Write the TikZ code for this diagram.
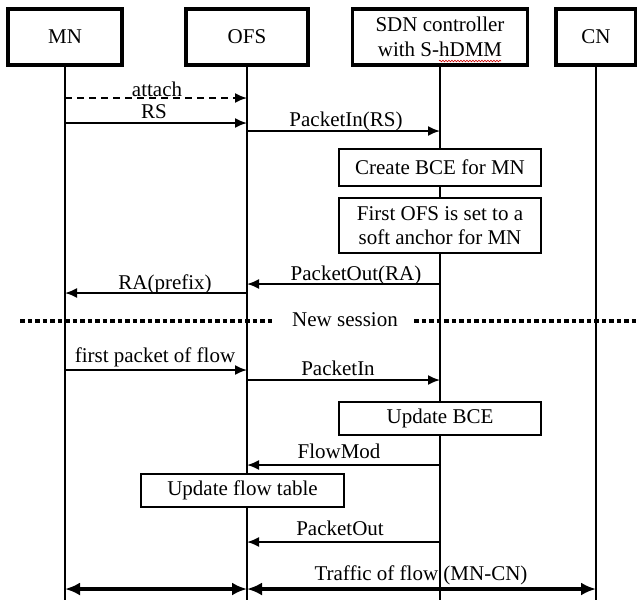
\documentclass[tikz,border=0pt]{standalone}
\usepackage{fontspec}
\setmainfont{Liberation Serif}
\usetikzlibrary{arrows.meta,decorations.pathmorphing}
\begin{document}
\begin{tikzpicture}[x=1pt,y=-1pt,
  font=\fontsize{21}{24}\selectfont,
  head/.style={draw,line width=3.8pt,minimum height=56pt,inner sep=0pt,align=center,font=\fontsize{21}{25}\selectfont},
  act/.style={draw,fill=white,line width=1.8pt,inner sep=0pt,align=center},
  life/.style={line width=2.4pt},
  msg/.style={line width=1.8pt,-{Latex[length=12pt,width=10pt]}},
  lbl/.style={anchor=base,inner sep=0pt},
  flow/.style={line width=4.8pt,{Latex[length=15pt,width=13pt]}-{Latex[length=15pt,width=13pt]}},
  sess/.style={line width=3.5pt,dash pattern=on 4.5pt off 3pt},
]
\useasboundingbox (0,0) rectangle (637,600);
% headers
\node[head,minimum width=114pt] (mn) at (65,37) {MN};
\node[head,minimum width=122pt] (ofs) at (247,37) {OFS};
\node[head,minimum width=175pt] (sdn) at (440,37) {SDN controller\\with S-hDMM};
\node[head,minimum width=80pt] (cn) at (596,37) {CN};
\draw[red!80!black,line width=0.6pt,decorate,decoration={snake,amplitude=0.8pt,segment length=3pt}] (439,61) -- (501,61);
% lifelines
\coordinate (mnend) at (65,600);
\coordinate (ofsend) at (247,600);
\coordinate (sdnend) at (440,600);
\coordinate (cnend) at (596,600);
\draw[life] (mn.south) -- (mnend);
\draw[life] (ofs.south) -- (ofsend);
\draw[life] (sdn.south) -- (sdnend);
\draw[life] (cn.south) -- (cnend);
% messages
\draw[msg,dash pattern=on 7pt off 5pt] (mn |- 0,98) -- (ofs |- 0,98);
\node[lbl] (lattach) at (157,96) {attach};
\draw[msg] (mn |- 0,123) -- (ofs |- 0,123);
\node[lbl] (lrs) at (154,118) {RS};
\draw[msg] (ofs |- 0,131) -- (sdn |- 0,131);
\node[lbl] (lpin1) at (346,126) {PacketIn(RS)};
\node[act,minimum width=202pt,minimum height=37pt] (bce) at (440,167.5) {Create BCE for MN};
\node[act,minimum width=202pt,minimum height=55pt] (anchor) at (440,225.5) {First OFS is set to a\\soft anchor for MN};
\draw[msg] (sdn |- 0,284) -- (ofs |- 0,284);
\node[lbl] (lpout1) at (356,280) {PacketOut(RA)};
\draw[msg] (ofs |- 0,293) -- (mn |- 0,293);
\node[lbl] (lra) at (165,289) {RA(prefix)};
% new session
\node[lbl] (ns) at (345,326) {New session};
\draw[sess] (20,321) -- (272,321);
\draw[sess] (414,321) -- (637,321);
% second part
\draw[msg] (mn |- 0,370) -- (ofs |- 0,370);
\node[lbl] (lfirst) at (155,362) {first packet of flow};
\draw[msg] (ofs |- 0,380) -- (sdn |- 0,380);
\node[lbl] (lpin2) at (338,375) {PacketIn};
\node[act,minimum width=202pt,minimum height=33pt] (ubce) at (440,418.5) {Update BCE};
\draw[msg] (sdn |- 0,465) -- (ofs |- 0,465);
\node[lbl] (lfm) at (339,458) {FlowMod};
\node[act,minimum width=203pt,minimum height=33pt] (uft) at (242.5,490.5) {Update flow table};
\draw[msg] (sdn |- 0,542) -- (ofs |- 0,542);
\node[lbl] (lpout2) at (340,535) {PacketOut};
\node[lbl] (ltraffic) at (421,580) {Traffic of flow (MN-CN)};
\draw[flow] (mn |- 0,589) -- (ofs |- 0,589);
\draw[flow] (ofs |- 0,589) -- (cn |- 0,589);
\end{tikzpicture}
\end{document}
